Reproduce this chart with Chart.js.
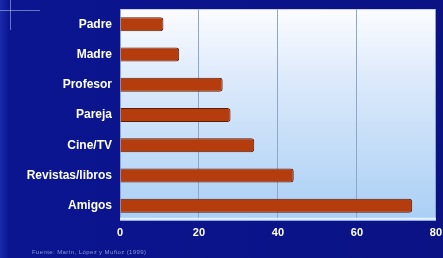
<!DOCTYPE html>
<html lang="es">
<head>
<meta charset="UTF-8">
<title>Fuentes de información</title>
<script src="https://cdn.jsdelivr.net/npm/chart.js@4"></script>
<style>
  html, body { margin: 0; padding: 0; background: #0a1282; overflow: hidden; }
  #wrap { position: relative; width: 443px; height: 258px; overflow: hidden; }
  #chart { position: absolute; left: 0; top: -6px; }
  #note {
    position: absolute; left: 32px; top: 249px;
    font: 6px Arial, sans-serif; color: #8a9ad8; white-space: nowrap; letter-spacing: 0.4px;
  }
</style>
</head>
<body>
<div id="wrap">
  <canvas id="chart" width="448" height="264"></canvas>
  <div id="note">Fuente: Marín, López y Muñoz (1999)</div>
</div>
<script>
// data
const categories = ['Padre', 'Madre', 'Profesor', 'Pareja', 'Cine/TV', 'Revistas/libros', 'Amigos'];
const values = [11, 15, 26, 28, 34, 44, 74];
const xTicks = [0, 20, 40, 60, 80];

// background + plot area paint
const backdrop = {
  id: 'backdrop',
  beforeDraw(chart) {
    const c = chart.ctx, w = chart.width, h = chart.height;
    const g = c.createLinearGradient(0, 0, w, 0);
    g.addColorStop(0, '#1a2aa8');
    g.addColorStop(0.02, '#0b1590');
    g.addColorStop(1, '#0a1284');
    c.save();
    c.fillStyle = g;
    c.fillRect(0, 0, w, h);
    // little sparkle top-left
    c.strokeStyle = 'rgba(200,210,255,0.5)';
    c.lineWidth = 1;
    c.beginPath();
    c.moveTo(0, 16.5); c.lineTo(40, 16.5);
    c.moveTo(10.5, 6); c.lineTo(10.5, 36);
    c.stroke();
    const a = chart.chartArea;
    const pg = c.createLinearGradient(0, a.top, 0, a.bottom);
    pg.addColorStop(0, '#fbfcff');
    pg.addColorStop(0.35, '#dbe9fb');
    pg.addColorStop(1, '#a9cff5');
    c.fillStyle = pg;
    c.fillRect(a.left, a.top, a.right - a.left, a.bottom - a.top);
    c.restore();
  },
  afterDatasetsDraw(chart) {
    const c = chart.ctx, a = chart.chartArea;
    c.save();
    c.strokeStyle = '#e8f0ff';
    c.lineWidth = 2;
    c.beginPath();
    c.moveTo(a.left, a.bottom - 2);
    c.lineTo(a.right, a.bottom - 2);
    c.stroke();
    c.restore();
  }
};

new Chart(document.getElementById('chart'), {
  type: 'bar',
  data: {
    labels: categories,
    datasets: [{
      data: values,
      backgroundColor: '#b53d0d',
      borderColor: '#5c1c06',
      borderWidth: 1,
      borderRadius: 3,
      borderSkipped: 'start',
      barPercentage: 0.46,
      categoryPercentage: 1
    }]
  },
  options: {
    indexAxis: 'y',
    responsive: false,
    animation: false,
    layout: { padding: { top: 3, right: 0, bottom: 12, left: 0 } },
    plugins: { legend: { display: false }, tooltip: { enabled: false } },
    scales: {
      x: {
        min: 0, max: 80,
        afterBuildTicks(scale) { scale.ticks = xTicks.map(v => ({ value: v })); },
        grid: { color: '#8ea6c8', lineWidth: 1, drawTicks: false },
        border: { display: false },
        ticks: {
          color: '#ffffff', padding: 6,
          font: { family: 'Arial, Liberation Sans, sans-serif', size: 11, weight: 'bold' }
        }
      },
      y: {
        afterFit(scale) { scale.width = 120; },
        grid: { display: false, drawTicks: false },
        border: { display: false },
        ticks: {
          color: '#ffffff', padding: 8,
          font: { family: 'Arial, Liberation Sans, sans-serif', size: 12, weight: 'bold' }
        }
      }
    }
  },
  plugins: [backdrop]
});
</script>
</body>
</html>
